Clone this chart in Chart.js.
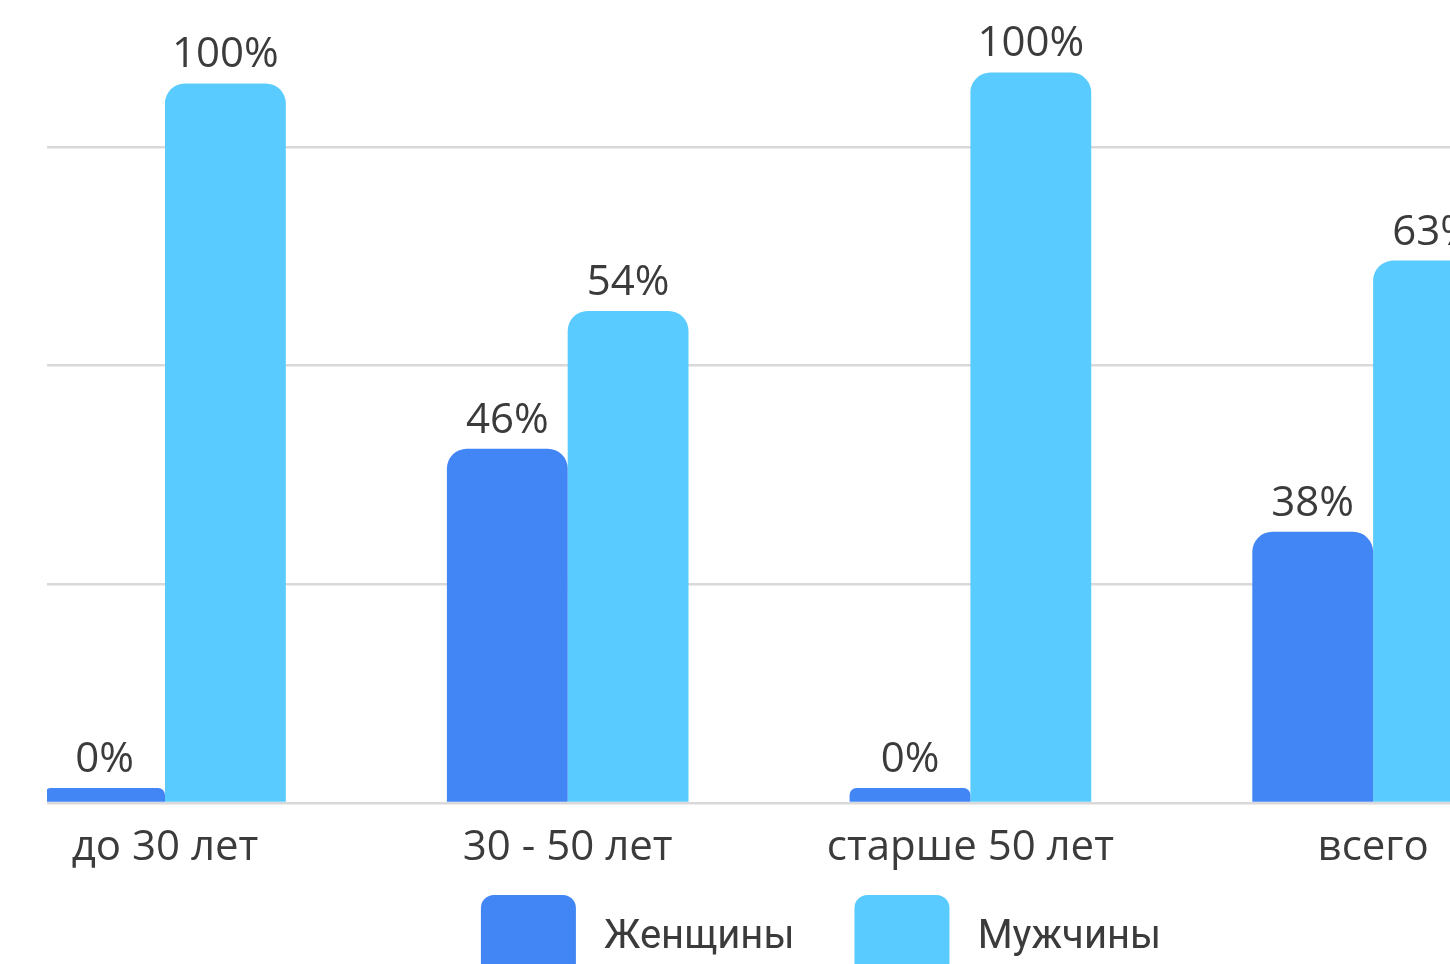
<!DOCTYPE html>
<html>
<head>
<meta charset="utf-8">
<script src="https://cdn.jsdelivr.net/npm/chart.js@4.4.1/dist/chart.umd.min.js"></script>
<style>
html, body { margin: 0; padding: 0; background: #ffffff; overflow: hidden; width: 1450px; height: 964px; }
#c { position: absolute; left: 0; top: 0; }
</style>
</head>
<body>
<canvas id="c" width="1642" height="1000"></canvas>
<script>
// ---- data ----
const categories = ['до 30 лет', '30 - 50 лет', 'старше 50 лет', 'всего'];
const seriesNames = ['Женщины', 'Мужчины'];
const womenValues = [0, 16.2, 0, 12.4];
const menValues = [32.9, 22.5, 33.4, 24.8];
const womenLabels = ['0%', '46%', '0%', '38%'];
const menLabels = ['100%', '54%', '100%', '63%'];
const yTicks = [0, 10, 20, 30];
const categoryIndex = [0, 1, 2, 3];

const textColor = '#3b3b3b';

const toPoints = (vals) => vals.map((v, i) => ({ x: categoryIndex[i], y: v }));

const valueLabels = {
  id: 'valueLabels',
  afterDatasetsDraw(chart) {
    const ctx = chart.ctx;
    ctx.save();
    ctx.font = '400 42px "Open Sans"';
    ctx.fillStyle = textColor;
    ctx.textAlign = 'center';
    ctx.textBaseline = 'middle';
    chart.data.datasets.forEach((ds, di) => {
      const meta = chart.getDatasetMeta(di);
      meta.data.forEach((bar, i) => {
        ctx.fillText(ds.valueLabels[i], bar.x, bar.y - 28);
      });
    });
    ctx.restore();
  }
};

new Chart(document.getElementById('c'), {
  type: 'bar',
  data: {
    datasets: [
      {
        label: seriesNames[0],
        data: toPoints(womenValues),
        valueLabels: womenLabels,
        backgroundColor: '#4285f4',
        borderRadius: 20,
        minBarLength: 15
      },
      {
        label: seriesNames[1],
        data: toPoints(menValues),
        valueLabels: menLabels,
        backgroundColor: '#59cbfe',
        borderRadius: 20,
        minBarLength: 15
      }
    ]
  },
  options: {
    responsive: false,
    animation: false,
    devicePixelRatio: 1,
    categoryPercentage: 0.6,
    barPercentage: 1.0,
    layout: { padding: { left: 47, right: 47, top: 59.4, bottom: 9 } },
    plugins: {
      tooltip: { enabled: false },
      legend: {
        position: 'bottom',
        align: 'center',
        labels: {
          boxWidth: 95,
          boxHeight: 86,
          padding: 60,
          useBorderRadius: true,
          borderRadius: 13,
          color: textColor,
          font: { family: 'Roboto', size: 40 },
          generateLabels(chart) {
            const items = Chart.defaults.plugins.legend.labels.generateLabels(chart);
            items.forEach(it => { it.text = '\u2009' + it.text; it.lineWidth = 0; });
            return items;
          }
        }
      }
    },
    scales: {
      x: {
        type: 'linear',
        offset: false,
        min: -0.293,
        max: 3.551,
        grid: { display: false, drawTicks: false, offset: false },
        border: { display: false },
        afterBuildTicks: (s) => { s.ticks = categoryIndex.map(v => ({ value: v })); },
        afterFit: (s) => { s.height = 32; },
        ticks: {
          autoSkip: false,
          maxRotation: 0,
          mirror: true,
          padding: -70,
          color: textColor,
          font: { family: 'Open Sans', size: 42 },
          callback: (v) => categories[v]
        }
      },
      y: {
        min: 0,
        max: 34,
        grid: { color: '#d9d9d9', lineWidth: 2.5, drawTicks: false },
        border: { display: false },
        afterBuildTicks: (s) => { s.ticks = yTicks.map(v => ({ value: v })); },
        ticks: { display: false }
      }
    }
  },
  plugins: [valueLabels]
});
</script>
</body>
</html>
